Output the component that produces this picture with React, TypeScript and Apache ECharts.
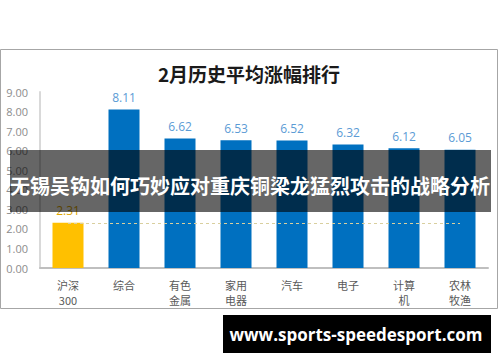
import React, { useEffect, useRef } from "react";
import * as echarts from "echarts";

const categories = ["沪深\n300", "综合", "有色\n金属", "家用\n电器", "汽车", "电子", "计算\n机", "农林\n牧渔"];
const values = [2.31, 8.11, 6.62, 6.53, 6.52, 6.32, 6.12, 6.05];
const baselineValue = 2.31;
const yTicks = { min: 0, max: 9, interval: 1 };
const titleText = "2月历史平均涨幅排行";
const bannerText = "无锡吴钩如何巧妙应对重庆铜梁龙猛烈攻击的战略分析";
const urlText = "www.sports-speedesport.com";

const CJK = '"Noto Sans CJK SC", "Noto Sans", sans-serif';
const NUM = '"Open Sans", "Noto Sans", sans-serif';

export default function App() {
  const ref = useRef<HTMLDivElement>(null);
  useEffect(() => {
    if (!ref.current) return;
    const chart = echarts.init(ref.current, null, { renderer: "svg" });
    chart.setOption({
      animation: false,
      backgroundColor: "#ffffff",
      grid: { left: 40, right: 12, top: 92, bottom: 94, containLabel: false },
      xAxis: {
        type: "category",
        data: categories,
        axisLine: { lineStyle: { color: "#bfbfbf", width: 2 } },
        axisTick: { show: false },
        axisLabel: {
          color: "#595959",
          fontSize: 11,
          fontFamily: CJK,
          lineHeight: 15,
          margin: 9,
          interval: 0,
        },
      },
      yAxis: {
        type: "value",
        min: yTicks.min,
        max: yTicks.max,
        interval: yTicks.interval,
        splitLine: { show: false },
        axisLine: { show: true, lineStyle: { color: "#d9d9d9", width: 2 } },
        axisTick: { show: false },
        axisLabel: {
          color: "#8c8c8c",
          fontSize: 11,
          fontFamily: NUM,
          margin: 12,
          formatter: (v: number) => v.toFixed(2),
        },
      },
      series: [
        {
          type: "bar",
          barWidth: 31,
          data: values.map((v, i) => ({
            value: v,
            itemStyle: { color: i === 0 ? "#ffc000" : "#0070c0" },
            label: { color: i === 0 ? "#e0a800" : "#5b9bd5" },
          })),
          label: {
            show: true,
            position: "top",
            distance: 6,
            fontSize: 12,
            fontFamily: NUM,
            formatter: (p: any) => Number(p.value).toFixed(2),
          },
          markLine: {
            silent: true,
            symbol: "none",
            label: { show: false },
            lineStyle: { color: "#d9cf9e", type: [3, 3], width: 1 },
            data: [[{ coord: [0, baselineValue] }, { coord: [categories.length - 1, baselineValue] }]],
          },
        },
      ],
      graphic: [
        {
          type: "rect",
          z: -1,
          silent: true,
          shape: { x: 0.5, y: 49.5, width: 497, height: 259 },
          style: { fill: "none", stroke: "#a6a6a6", lineWidth: 1 },
        },
        {
          type: "text",
          x: 249,
          y: 73,
          style: {
            text: titleText,
            fill: "#1a1a1a",
            font: `bold 19px ${CJK}`,
            textAlign: "center",
            textVerticalAlign: "middle",
          },
        },
        {
          type: "rect",
          z: 100,
          shape: { x: 10, y: 150, width: 481, height: 62 },
          style: { fill: "rgba(0,0,0,0.6)" },
        },
        {
          type: "text",
          z: 101,
          x: 250,
          y: 185,
          style: {
            text: bannerText,
            fill: "#ffffff",
            font: `bold 20px ${CJK}`,
            textAlign: "center",
            textVerticalAlign: "middle",
          },
        },
        {
          type: "rect",
          z: 100,
          shape: { x: 223, y: 315, width: 268, height: 38 },
          style: { fill: "#000000" },
        },
        {
          type: "text",
          z: 101,
          x: 356,
          y: 334,
          style: {
            text: urlText,
            fill: "#ffffff",
            font: `bold 17px ${NUM}`,
            textAlign: "center",
            textVerticalAlign: "middle",
          },
        },
      ],
    });
    return () => chart.dispose();
  }, []);
  return (
    <div
      ref={ref}
      style={{ position: "absolute", left: 0, top: 0, width: 500, height: 362 }}
    />
  );
}
